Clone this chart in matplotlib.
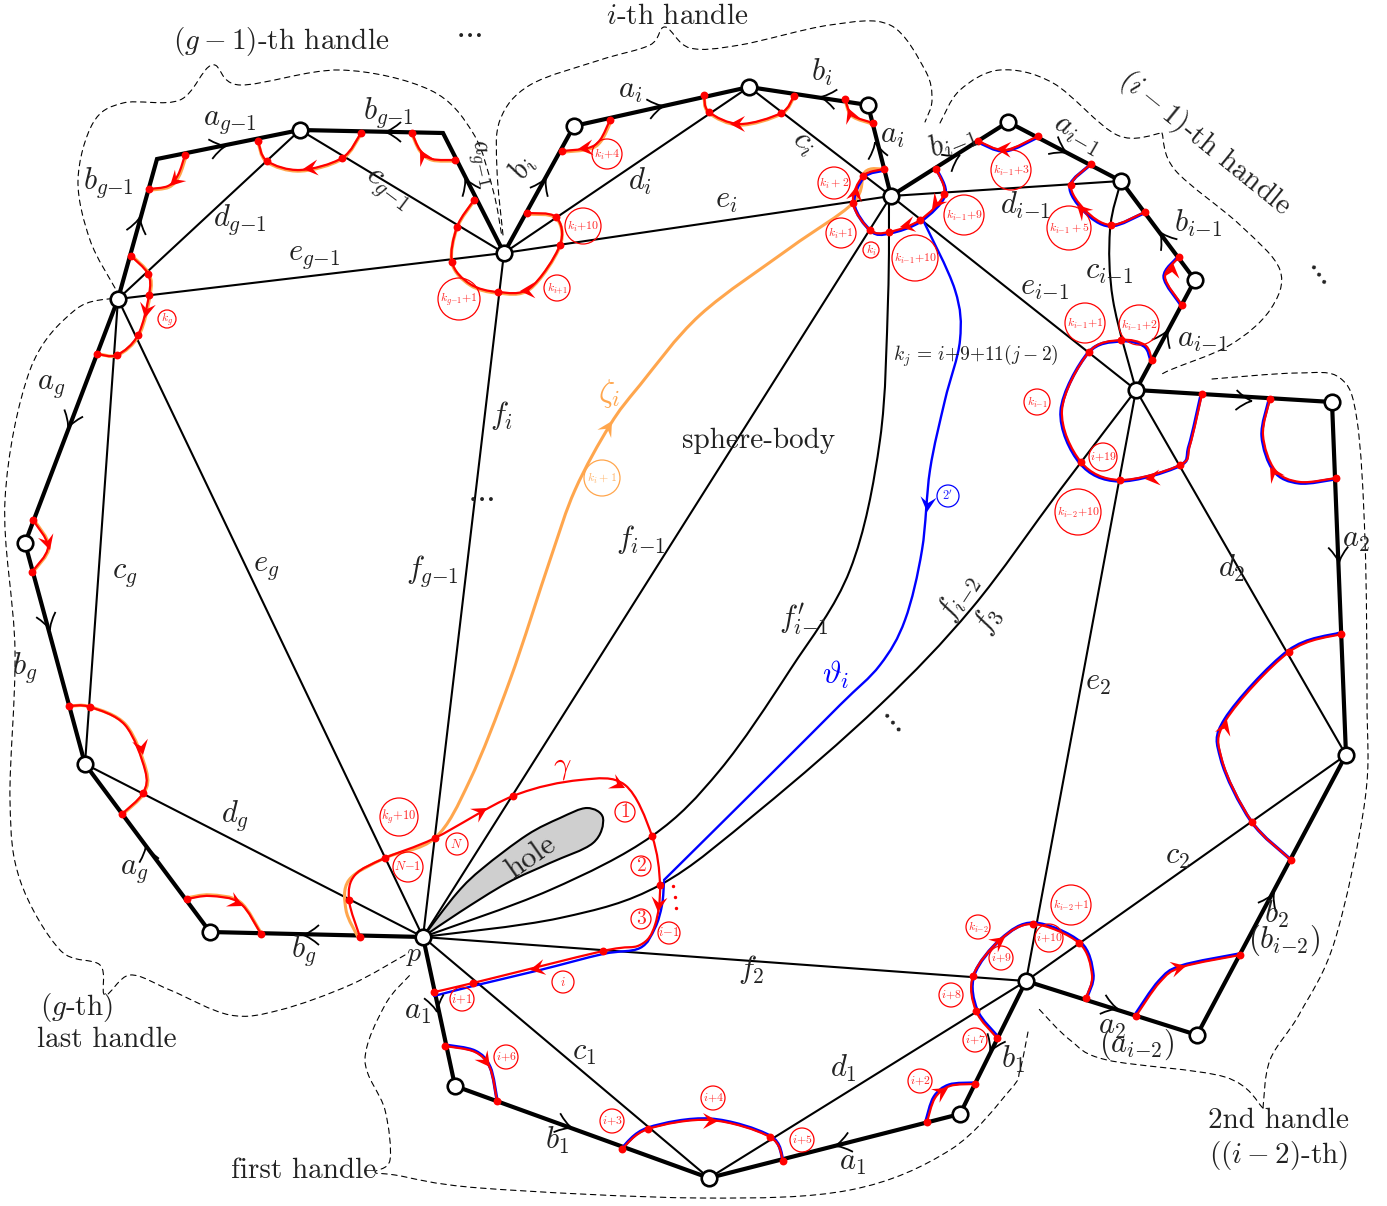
import numpy as np
import matplotlib
matplotlib.use('Agg')
import matplotlib.pyplot as plt
from matplotlib.path import Path
from matplotlib.patches import PathPatch, Circle, Polygon

plt.rcParams['mathtext.fontset'] = 'cm'
plt.rcParams['font.family'] = ['cmr10', 'DejaVu Serif']
plt.rcParams['axes.unicode_minus'] = False

P = (423, 937)
boundary = [P, (455, 1086), (709, 1178), (960, 1114), (1026, 981), (1197, 1035), (1346, 755), (1332, 402),
            (1136, 390), (1195, 280), (1121, 181), (1008, 122), (891, 196), (868, 105), (749, 87), (574, 126),
            (504, 253), (443, 133), (300, 130), (157, 159), (118, 299), (25, 543), (85, 764), (210, 932), P]
vertices = [P, (455, 1086), (709, 1178), (960, 1114), (1026, 981), (1197, 1035), (1346, 755), (1332, 402),
            (1136, 390), (1195, 280), (1121, 181), (1008, 122), (891, 196), (868, 105), (749, 87), (574, 126),
            (504, 253), (300, 130), (118, 299), (25, 543), (85, 764), (210, 932)]
thin_edges = [(P, (118, 299)), (P, (504, 253)), (P, (891, 196)), (P, (1026, 981)), (P, (709, 1178)), (P, (85, 764)),
              ((709, 1178), (1026, 981)), ((1026, 981), (1346, 755)), ((1026, 981), (1136, 390)),
              ((1136, 390), (1346, 755)), ((891, 196), (1136, 390)), ((891, 196), (1121, 181)),
              ((504, 253), (891, 196)), ((504, 253), (749, 87)), ((749, 87), (891, 196)),
              ((118, 299), (504, 253)), ((118, 299), (300, 130)), ((300, 130), (504, 253)), ((118, 299), (85, 764))]
thin_curves = [
    [P, (550, 890), (652, 836), (720, 770), (790, 670), (850, 570), (880, 440), (888, 300), (889, 196)],
    [P, (560, 918), (660, 885), (760, 810), (880, 705), (972, 608), (1060, 490), (1136, 390)],
    [(1121, 181), (1110, 230), (1113, 300), (1136, 390)],
]
hole = [P, (457, 893), (483, 868), (527, 835), (560, 818), (587, 808), (603, 818), (593, 843), (550, 863), (507, 883), (460, 912), P]

orange = '#FFA64D'
red = '#FF0000'
blue = '#0000FF'
# (points, underlay colour, underlay offset x, underlay offset y)
red_paths = [
    ([(131, 256), (148, 274), (149, 295), (138, 335), (117, 355), (97, 354)], orange, 1, 0),
    ([(185, 155), (178, 175), (168, 186), (149, 189)], orange, 1, 1),
    ([(258, 141), (267, 161), (300, 170), (342, 158), (361, 133)], orange, 0, 1),
    ([(412, 133), (420, 150), (432, 159), (455, 160)], orange, 0, 1),
    ([(474, 200), (457, 227), (452, 262), (470, 284), (498, 292), (530, 288), (560, 245), (556, 217), (527, 213)], orange, 0, 1),
    ([(610, 120), (600, 140), (588, 148), (562, 151)], orange, 1, 1),
    ([(704, 95), (709, 112), (740, 124), (781, 113), (794, 96)], orange, 0, 1),
    ([(845, 99), (852, 115), (873, 123)], orange, 0, 1),
    ([(884, 169), (863, 176), (853, 203), (870, 230), (889, 232), (920, 220), (944, 194), (936, 169)], blue, 1, 1),
    ([(360, 937), (349, 900), (355, 875), (385, 858), (435, 838), (513, 796), (580, 780), (625, 785), (652, 836), (660, 885), (655, 925),
      (640, 945), (603, 951), (473, 983), (434, 992)], None, 0, 0),
    ([(1038, 136), (1005, 150), (978, 141)], blue, 0, 1),
    ([(1145, 212), (1111, 225), (1085, 210), (1071, 185), (1091, 164)], blue, -1, 1),
    ([(1182, 305), (1165, 277), (1179, 257)], blue, -1, 0),
    ([(1202, 394), (1190, 445), (1180, 465), (1120, 480), (1081, 462), (1062, 410), (1089, 352), (1121, 340), (1145, 345), (1152, 360)], blue, -1, 1),
    ([(1336, 478), (1300, 482), (1275, 470), (1263, 435), (1270, 399)], blue, -1, 1),
    ([(1291, 860), (1252, 822), (1222, 760), (1226, 720), (1289, 652), (1341, 634)], blue, -1, -1),
    ([(1136, 1016), (1160, 982), (1182, 967), (1240, 955)], blue, -1, -1),
    ([(997, 1038), (976, 1011), (973, 976), (1000, 940), (1033, 924), (1079, 943), (1092, 975), (1086, 998)], blue, 1, -1),
    ([(927, 1122), (935, 1098), (950, 1086), (975, 1084)], blue, -1, -1),
    ([(622, 1149), (648, 1129), (710, 1120), (770, 1137), (783, 1161)], blue, 0, -1),
    ([(445, 1046), (475, 1052), (490, 1068), (497, 1101)], blue, 0, -1),
    ([(33, 520), (48, 547), (32, 572)], orange, 1, 0),
    ([(69, 706), (90, 707), (125, 725), (145, 770), (143, 793), (122, 814)], orange, 1, 0),
    ([(187, 899), (210, 896), (240, 903), (261, 934)], orange, 0, -1),
]
zeta_path = [(884, 169), (865, 172), (853, 203), (790, 248), (700, 315), (640, 385), (610, 425), (575, 490), (550, 560), (510, 680),
             (470, 780), (435, 838), (385, 858), (349, 880), (346, 910), (358, 937)]
theta_upper = [(923, 220), (955, 290), (960, 340), (945, 400), (930, 470), (922, 550), (905, 620), (880, 665), (840, 705), (770, 775), (664, 880)]
theta_lower = [(664, 882), (662, 905), (655, 928), (640, 948), (603, 954), (540, 970), (473, 986), (434, 996)]
red_dots = [(131, 256), (148, 274), (149, 295), (138, 335), (117, 355), (97, 354), (185, 155), (149, 189), (258, 141), (267, 161),
            (342, 158), (361, 133), (412, 133), (455, 160), (474, 200), (457, 227), (452, 262), (498, 292), (560, 245), (556, 217),
            (527, 213), (610, 120), (562, 151), (704, 95), (709, 112), (781, 113), (794, 96), (845, 99), (873, 123), (884, 169),
            (863, 176), (853, 203), (870, 230), (889, 232), (920, 220), (944, 194), (936, 169), (360, 937), (385, 858), (435, 838),
            (513, 796), (652, 836), (660, 885), (603, 951), (473, 983), (434, 992), (349, 900), (1038, 136), (978, 141), (1145, 212),
            (1111, 225), (1071, 185), (1091, 164), (1182, 305), (1179, 257), (1202, 394), (1180, 465), (1120, 480), (1081, 462),
            (1089, 352), (1121, 340), (1152, 360), (1336, 478), (1270, 399), (1291, 860), (1252, 822), (1289, 652), (1341, 634),
            (1136, 1016), (1240, 955), (997, 1038), (976, 1011), (973, 976), (1033, 924), (1079, 943), (1086, 998), (927, 1122),
            (975, 1084), (622, 1149), (648, 1129), (770, 1137), (783, 1161), (445, 1046), (497, 1101), (33, 520), (32, 572), (69, 706),
            (90, 707), (143, 793), (122, 814), (187, 899), (261, 934)]
chevrons = [(437, 1012, 0.2, 1), (572, 1128, 1, 0.35), (835, 1146, -1, 0.25), (990, 1052, -0.45, 1), (1118, 1009, 1, 0.3),
            (1274, 893, 0.5, -1), (1339, 563, 0.05, 1), (1252, 401, 1, 0.06), (1168, 330, 0.5, -1), (1160, 232, -0.7, -1),
            (1067, 153, 1, 0.55), (960, 155, 1, -0.6), (875, 142, -0.2, -1), (820, 97, -1, -0.15), (664, 106, 1, -0.2),
            (546, 178, 0.5, -1), (465, 178, -0.45, -1), (385, 132, -1, 0), (226, 146, 1, -0.2), (140, 217, 0.25, -1),
            (68, 428, -0.38, 1), (50, 630, 0.27, 1), (146, 845, -0.2, -1), (303, 935, -1, 0)]
red_arrows = [(487, 808, 1, -0.6), (625, 788, 1, 0.5), (658, 912, -0.1, 1), (530, 970, -1, 0.2), (145, 318, -0.2, 1),
              (170, 186, -0.7, 0.7), (303, 169, -1, 0.1), (420, 150, -0.5, -0.9), (520, 291, -1, 0.05), (578, 149, -1, 0.1),
              (730, 124, -1, 0), (848, 108, -0.4, -1), (857, 186, 0.2, -1), (932, 209, -0.6, 0.8), (900, 227, -1, 0.2),
              (996, 149, -1, -0.05), (1077, 205, -0.7, -0.7), (1173, 263, 0.1, -1), (1145, 479, -1, 0.1), (1270, 467, -0.5, -0.8),
              (1227, 720, 0.3, -1), (1186, 966, 1, -0.25), (1005, 937, 0.8, -0.6), (948, 1088, 0.8, -0.5), (718, 1121, 1, 0),
              (490, 1067, 0.6, 0.8), (50, 550, 0.3, 1), (143, 755, 0.2, 1), (243, 906, 1, 0.5)]
red_circles = [(625, 812, 10, r'$1$', 14), (641, 866, 10, r'$2$', 14), (641, 919, 10, r'$3$', 14), (669, 933, 11, r'$i{-}1$', 9),
               (563, 982, 11, r'$i$', 9), (462, 999, 12, r'$i{+}1$', 9), (399, 817, 19, r'$k_g{+}10$', 9), (457, 844, 11, r'$N$', 9),
               (408, 867, 15, r'$N{-}1$', 9), (506, 1057, 12, r'$i{+}6$', 8.5), (612, 1121, 12, r'$i{+}3$', 8.5),
               (713, 1098, 12, r'$i{+}4$', 8.5), (802, 1140, 12, r'$i{+}5$', 8.5), (920, 1081, 12, r'$i{+}2$', 8.5),
               (975, 1040, 12, r'$i{+}7$', 8.5), (951, 995, 12, r'$i{+}8$', 8.5), (1001, 958, 12, r'$i{+}9$', 8.5),
               (1049, 938, 14, r'$i{+}10$', 8.5), (978, 927, 12, r'$k_{i{-}2}$', 8.5), (1071, 905, 20, r'$k_{i{-}2}{+}1$', 8.5),
               (1078, 512, 23, r'$k_{i{-}2}{+}10$', 8.5), (1103, 457, 14, r'$i{+}19$', 8.5), (1037, 402, 13, r'$k_{i{-}1}$', 8.5),
               (1085, 323, 20, r'$k_{i{-}1}{+}1$', 8.5), (1139, 325, 20, r'$k_{i{-}1}{+}2$', 8.5), (1069, 228, 22, r'$k_{i{-}1}+5$', 8.5),
               (1011, 170, 20, r'$k_{i{-}1}{+}3$', 8.5), (964, 215, 20, r'$k_{i{-}1}{+}9$', 8.5), (915, 258, 23, r'$k_{i{-}1}{+}10$', 8.5),
               (871, 250, 8, r'$k_i$', 8.5), (841, 233, 15, r'$k_i{+}1$', 8.5), (834, 183, 16, r'$k_i+2$', 8.5),
               (607, 154, 15, r'$k_i{+}4$', 8.5), (583, 226, 18, r'$k_i{+}10$', 8.5), (557, 288, 13, r'$k_{i{+}1}$', 8.5),
               (459, 299, 21, r'$k_{g{-}1}{+}1$', 8.5), (167, 319, 9, r'$k_g$', 8.5)]
orange_circle = (602, 478, 18, r'$k_i+1$', 8.5)
blue_circle = (948, 496, 11, r"$2'$", 9)
dashed = [
    [(115, 288), (90, 240), (78, 180), (93, 123), (123, 103), (180, 100), (212, 65), (240, 85), (340, 70), (430, 90), (473, 133), (493, 190), (502, 237)],
    [(503, 235), (497, 170), (500, 120), (530, 85), (600, 60), (650, 45), (665, 27), (690, 48), (740, 45), (830, 25), (890, 25), (925, 70), (932, 100), (925, 122)],
    [(940, 123), (960, 90), (1000, 70), (1053, 83), (1117, 135), (1162, 133)],
    [(1162, 133), (1175, 170), (1240, 225), (1280, 270), (1270, 310), (1230, 345), (1170, 370), (1160, 376)],
    [(1212, 379), (1297, 373), (1340, 378), (1357, 420), (1365, 540), (1367, 700), (1365, 800), (1335, 940), (1300, 1013), (1270, 1060), (1263, 1108)],
    [(1263, 1108), (1225, 1077), (1107, 1060), (1070, 1040), (1038, 1008)],
    [(1028, 1032), (1020, 1070), (1010, 1090), (950, 1150), (850, 1190), (700, 1198), (480, 1188), (395, 1175), (375, 1172), (390, 1160), (385, 1110), (365, 1060), (385, 1005), (410, 975)],
    [(405, 955), (350, 985), (280, 1010), (230, 1015), (170, 990), (130, 975), (105, 995), (100, 965), (60, 950), (20, 880), (10, 800), (15, 650), (5, 500), (30, 370), (75, 310), (115, 298)],
]
black_labels = [
    (281, 42, r'$(g-1)$-th handle', 21, 0), (677, 17, r'$i$-th handle', 21, 0), (1205, 143, r'$(i-1)$-th handle', 21, -39),
    (468, 33, r'$\cdots$', 22, 0), (1319, 272, r'$\cdots$', 22, -55), (759, 441, 'sphere-body', 21, 0),
    (480, 497, r'$\cdots$', 22, 0), (892, 720, r'$\cdots$', 22, -50),
    (76, 1007, r'$(g$-th)', 21, 0), (107, 1040, 'last handle', 21, 0), (304, 1171, 'first handle', 21, 0),
    (1279, 1121, '2nd handle', 21, 0), (1279, 1156, r'$((i-2)$-th)', 21, 0),
    (230, 122, r'$a_{g{-}1}$', 22, 0), (388, 113, r'$b_{g{-}1}$', 22, 0), (108, 183, r'$b_{g{-}1}$', 22, 0), (240, 220, r'$d_{g{-}1}$', 22, 0),
    (387, 190, r'$c_{g{-}1}$', 22, -37), (479, 163, r'$a_{g{-}1}$', 19, -77), (314, 257, r'$e_{g{-}1}$', 22, 0),
    (523, 168, r'$b_i$', 22, 60), (630, 91, r'$a_i$', 22, 0), (822, 72, r'$b_i$', 22, 0), (892, 136, r'$a_i$', 22, 0),
    (640, 181, r'$d_i$', 22, 0), (803, 143, r'$c_i$', 22, -40), (726, 201, r'$e_i$', 22, 0), (502, 416, r'$f_i$', 22, 0),
    (51, 386, r'$a_g$', 22, 0), (125, 575, r'$c_g$', 22, 0), (266, 568, r'$e_g$', 22, 0), (25, 668, r'$b_g$', 22, 0),
    (432, 571, r'$f_{g{-}1}$', 22, 0), (641, 540, r'$f_{i{-}1}$', 22, 0), (804, 620, r"$f_{i{-}1}^{\prime}$", 22, 0),
    (958, 597, r'$f_{i{-}2}$', 22, 57), (987, 620, r'$f_3$', 22, 57), (235, 816, r'$d_g$', 22, 0), (134, 871, r'$a_g$', 22, 0),
    (304, 951, r'$b_g$', 22, 0), (414, 955, r'$p$', 20, 0), (418, 1012, r'$a_1$', 22, 0), (584, 1053, r'$c_1$', 22, 0),
    (557, 1140, r'$b_1$', 22, 0), (853, 1163, r'$a_1$', 22, 0), (843, 1068, r'$d_1$', 22, 0), (1013, 1059, r'$b_1$', 22, 0),
    (751, 970, r'$f_2$', 22, 0), (1177, 857, r'$c_2$', 22, 0), (1098, 683, r'$e_2$', 22, 0), (1232, 568, r'$d_2$', 22, 0),
    (1356, 540, r'$a_2$', 22, 0), (1276, 914, r'$b_2$', 22, 0), (1284, 940, r'$(b_{i{-}2})$', 22, 0), (1112, 1027, r'$a_2$', 22, 0),
    (1137, 1044, r'$(a_{i{-}2})$', 22, 0), (1203, 340, r'$a_{i{-}1}$', 22, 0), (1198, 223, r'$b_{i{-}1}$', 22, 0),
    (1109, 272, r'$c_{i{-}1}$', 22, 0), (1045, 288, r'$e_{i{-}1}$', 22, 0), (1025, 205, r'$d_{i{-}1}$', 22, 0),
    (952, 142, r'$b_{i{-}1}$', 22, 22), (1077, 135, r'$a_{i{-}1}$', 22, -30),
    (976, 356, r'$k_j\,=\,i{+}9{+}11(j-2)$', 14, 0),
]
gamma_label = (562, 768, r'$\gamma$', 22)
zeta_label = (609, 393, r'$\zeta_i$', 23)
theta_label = (836, 675, r'$\vartheta_i$', 23)
hole_label = (531, 857, 'hole', 22, 35)
red_vdots = [(673, 886), (675, 897), (676, 908)]


def smooth(pts):
    pts = np.array(pts, float)
    n = len(pts)
    verts = [pts[0]]
    codes = [Path.MOVETO]
    for i in range(n - 1):
        p0 = pts[max(i - 1, 0)]
        p1 = pts[i]
        p2 = pts[i + 1]
        p3 = pts[min(i + 2, n - 1)]
        verts += [p1 + (p2 - p0) / 6, p2 - (p3 - p1) / 6, p2]
        codes += [Path.CURVE4] * 3
    return Path(verts, codes)


fig = plt.figure(figsize=(13.87, 12.06), dpi=100)
ax = fig.add_axes([0, 0, 1, 1])
ax.set_xlim(0, 1387)
ax.set_ylim(1206, 0)
ax.axis('off')


def curve(pts, color, lw, z, dx=0, dy=0, **kw):
    q = [(a + dx, b + dy) for a, b in pts]
    ax.add_patch(PathPatch(smooth(q), fc='none', ec=color, lw=lw, zorder=z, capstyle='round', **kw))


for a, b in thin_edges:
    ax.plot([a[0], b[0]], [a[1], b[1]], color='k', lw=1.5, zorder=2, solid_capstyle='round')
for c in thin_curves:
    curve(c, 'k', 1.5, 2)
ax.add_patch(PathPatch(smooth(hole), fc='#CFCFCF', ec='k', lw=1.5, zorder=2))
ax.plot(*zip(*boundary), color='k', lw=3, zorder=3, solid_joinstyle='miter')
for d in dashed:
    curve(d, 'k', 0.8, 1, linestyle=(0, (5, 4)))

curve(zeta_path, orange, 2.2, 4)
curve(theta_upper, blue, 1.7, 4)
curve(theta_lower, blue, 1.7, 4)
for pts, under, dx, dy in red_paths:
    if under:
        curve(pts, under, 2.4, 4, dx, dy)
for pts, under, dx, dy in red_paths:
    curve(pts, red, 1.6, 5)
ax.scatter(*zip(*red_dots), s=32, color=red, lw=0, zorder=6)
ax.scatter(*zip(*red_vdots), s=6, color=red, lw=0, zorder=6)

for x, y, ux, uy in chevrons:
    u = np.array([ux, uy], float)
    u /= np.hypot(*u)
    n = np.array([-u[1], u[0]])
    tip = np.array([x, y])
    for s in (-1, 1):
        p = Path([tip - 16 * u + s * 10 * n, tip - 7 * u + s * 2 * n, tip], [Path.MOVETO, Path.CURVE3, Path.CURVE3])
        ax.add_patch(PathPatch(p, fc='none', ec='k', lw=1.3, zorder=4))


def stealth(x, y, ux, uy, color):
    u = np.array([ux, uy], float)
    u /= np.hypot(*u)
    n = np.array([-u[1], u[0]])
    tip = np.array([x, y])
    ax.add_patch(Polygon([tip, tip - 15 * u + 8 * n, tip - 9 * u, tip - 15 * u - 8 * n], closed=True, fc=color, ec='none', zorder=6))


for x, y, ux, uy in red_arrows:
    stealth(x, y, ux, uy, red)
stealth(612, 421, 0.6, -1, orange)
stealth(927, 512, -0.1, 1, blue)

ax.scatter(*zip(*vertices), s=125, fc='white', ec='k', lw=1.9, zorder=7)


def circ(spec, color):
    x, y, r, s, fs = spec
    ax.add_patch(Circle((x, y), r, fc='none', ec=color, lw=0.9, zorder=8))
    ax.text(x, y, s, color=color, fontsize=fs, ha='center', va='center', zorder=9, alpha=0.85)


for spec in red_circles:
    circ(spec, red)
circ(orange_circle, orange)
circ(blue_circle, blue)

for x, y, s, fs, rot in black_labels:
    ax.text(x, y, s, fontsize=fs, rotation=rot, ha='center', va='center', color='#222222', zorder=10)
ax.text(gamma_label[0], gamma_label[1], gamma_label[2], fontsize=gamma_label[3], color=red, ha='center', va='center', zorder=10)
ax.text(zeta_label[0], zeta_label[1], zeta_label[2], fontsize=zeta_label[3], color=orange, ha='center', va='center', zorder=10)
ax.text(theta_label[0], theta_label[1], theta_label[2], fontsize=theta_label[3], color=blue, ha='center', va='center', zorder=10)
ax.text(hole_label[0], hole_label[1], hole_label[2], fontsize=hole_label[3], rotation=hole_label[4], ha='center', va='center', color='#222222', zorder=10)

fig.savefig('out.png', dpi=100)
